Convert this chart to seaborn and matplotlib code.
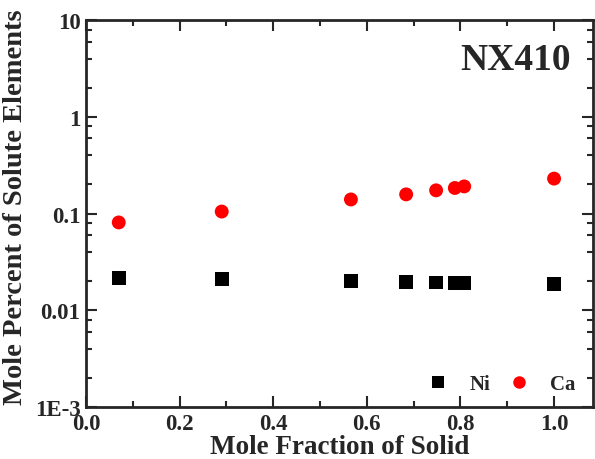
import matplotlib
matplotlib.use("Agg")
import matplotlib.pyplot as plt
import matplotlib.ticker as mticker
import pandas as pd
import seaborn as sns

# values
fraction_solid = [0.07, 0.29, 0.566, 0.684, 0.748, 0.788, 0.808, 1.0]
ni_percent = [0.0214, 0.0210, 0.0202, 0.0198, 0.0194, 0.0191, 0.0191, 0.0187]
ca_percent = [0.081, 0.105, 0.140, 0.158, 0.174, 0.184, 0.191, 0.230]
elements = ["Ni", "Ca"]
x_ticks = [0.0, 0.2, 0.4, 0.6, 0.8, 1.0]
y_ticks = [1e-3, 1e-2, 1e-1, 1, 10]
y_tick_labels = ["1E-3", "0.01", "0.1", "1", "10"]

df = pd.DataFrame({
    "fraction": fraction_solid * 2,
    "percent": ni_percent + ca_percent,
    "element": ["Ni"] * len(ni_percent) + ["Ca"] * len(ca_percent),
})

sns.set_style("ticks")
plt.rcParams["font.family"] = ["Liberation Serif", "DejaVu Serif"]
plt.rcParams["font.weight"] = "bold"

fig = plt.figure(figsize=(5.95, 4.6), dpi=100)
ax = fig.add_axes([0.1445, 0.113, 0.852, 0.841])

sns.scatterplot(data=df, x="fraction", y="percent", hue="element", style="element",
                hue_order=elements, style_order=elements,
                palette={"Ni": "black", "Ca": "red"},
                markers={"Ni": "s", "Ca": "o"},
                s=100, linewidth=0, ax=ax)

ax.set_yscale("log")
ax.set_xlim(0, 1.083)
ax.set_ylim(1e-3, 10)
ax.set_xticks(x_ticks)
ax.set_xticklabels([f"{v:.1f}" for v in x_ticks], fontweight="bold", fontsize=16.5)
ax.xaxis.set_minor_locator(mticker.MultipleLocator(0.1))
ax.set_yticks(y_ticks)
ax.set_yticklabels(y_tick_labels, fontweight="bold", fontsize=16.5)
ax.yaxis.set_minor_locator(mticker.LogLocator(base=10, subs=[2, 4, 6, 8]))
ax.yaxis.set_minor_formatter(mticker.NullFormatter())

ax.tick_params(which="both", direction="in", top=True, right=True, width=1.5, pad=4)
ax.tick_params(which="major", length=8)
ax.tick_params(which="minor", length=4)
for sp in ax.spines.values():
    sp.set_linewidth(2)

ax.set_xlabel("Mole Fraction of Solid", fontsize=19.5, fontweight="bold", labelpad=0)
ax.set_ylabel("Mole Percent of Solute Elements", fontsize=20.5, fontweight="bold")
ax.yaxis.set_label_coords(-0.114, 0.52)
ax.text(0.957, 0.899, "NX410", transform=ax.transAxes, ha="right", va="center",
        fontsize=27, fontweight="bold")

ax.legend(loc="lower right", bbox_to_anchor=(1.003, -0.015), ncol=2, frameon=False,
          handletextpad=0.5, columnspacing=0.4, markerscale=0.9,
          prop={"weight": "bold", "size": 15})

fig.savefig("out.png", dpi=100)
